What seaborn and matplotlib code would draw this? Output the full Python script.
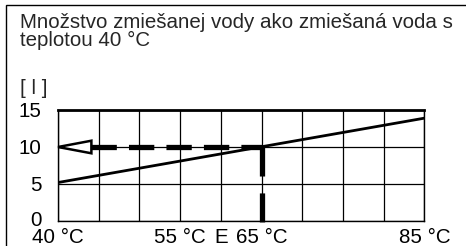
import matplotlib
matplotlib.use("Agg")
import matplotlib.pyplot as plt
import matplotlib.transforms as mtransforms
import seaborn as sns
import pandas as pd
from matplotlib.patches import Rectangle

# data
temps = [40, 85]              # hot water temperature [°C]
volumes = [5.2, 13.9]         # mixed water volume [l]
read_temp = 65                # example reading
read_volume = 10
xticks = [40, 45, 50, 55, 60, 65, 70, 75, 80, 85]
xlabels = ["40 °C", "", "", "55 °C", "E", "65 °C", "", "", "", "85 °C"]
yticks = [0, 5, 10, 15]
title_lines = ["Množstvo zmiešanej vody ako zmiešaná voda s", "teplotou 40 °C"]
unit = "[ l ]"

sns.set_style("white")
plt.rcParams["font.family"] = ["Liberation Sans", "DejaVu Sans"]
fs = 14.8

fig = plt.figure(figsize=(4.66, 2.46), dpi=100)
W, H = 466, 246
ax = fig.add_axes([58 / W, 1 - 221 / H, (424.5 - 58) / W, (221 - 110) / H])

df = pd.DataFrame({"temp": temps, "vol": volumes})
sns.lineplot(data=df, x="temp", y="vol", color="black", lw=2, ax=ax)

ax.set_xlim(temps[0], temps[-1])
ax.set_ylim(yticks[0], yticks[-1])
ax.set_xticks(xticks)
ax.set_xticklabels(xlabels)
ax.set_yticks(yticks)
ax.set_xlabel("")
ax.set_ylabel("")
ax.grid(True, color="black", lw=0.9)
ax.tick_params(axis="x", direction="out", length=5, width=0.9, pad=0,
               labelsize=fs, colors="black")
ax.tick_params(axis="y", direction="out", length=5, width=0.9, pad=7,
               labelsize=fs, colors="black")
# lift the "0" a little, as in the original
ylab0 = ax.get_yticklabels()[0]
ylab0.set_transform(ylab0.get_transform() + mtransforms.ScaledTranslation(0, 3 / 100, fig.dpi_scale_trans))
for s in ["left", "bottom", "right"]:
    ax.spines[s].set_visible(True)
    ax.spines[s].set_color("black")
    ax.spines[s].set_linewidth(1)
ax.spines["top"].set_visible(True)
ax.spines["top"].set_color("black")
ax.spines["top"].set_linewidth(2)

# reading arrow: from the reading point to the volume axis
head_len = 4.1
head_half = 0.85
x0 = temps[0]
ax.plot([x0 + head_len, read_temp], [read_volume, read_volume], color="black",
        lw=3.8, dashes=(4.8, 2.3), solid_capstyle="butt", dash_capstyle="butt")
ax.plot([read_temp, read_temp], [read_volume, -0.2], color="black",
        lw=3.8, dashes=(5.5, 3.2), dash_capstyle="butt", clip_on=False)
ax.fill([x0, x0 + head_len, x0 + head_len],
        [read_volume, read_volume + head_half, read_volume - head_half],
        facecolor="white", edgecolor="black", lw=1.8, zorder=5, clip_on=False)

# labels above the chart
fig.text(20 / W, 1 - 28 / H, title_lines[0], fontsize=fs, va="baseline")
fig.text(20 / W, 1 - 46.5 / H, title_lines[1], fontsize=fs, va="baseline")
fig.text(20 / W, 1 - 94 / H, unit, fontsize=fs, va="baseline")

# outer frame
fig.patches.append(Rectangle((6 / W, -0.2), 1.2, 1.2 - 5 / H, transform=fig.transFigure,
                             fill=False, edgecolor="black", lw=1))

fig.savefig("out.png", dpi=100)
